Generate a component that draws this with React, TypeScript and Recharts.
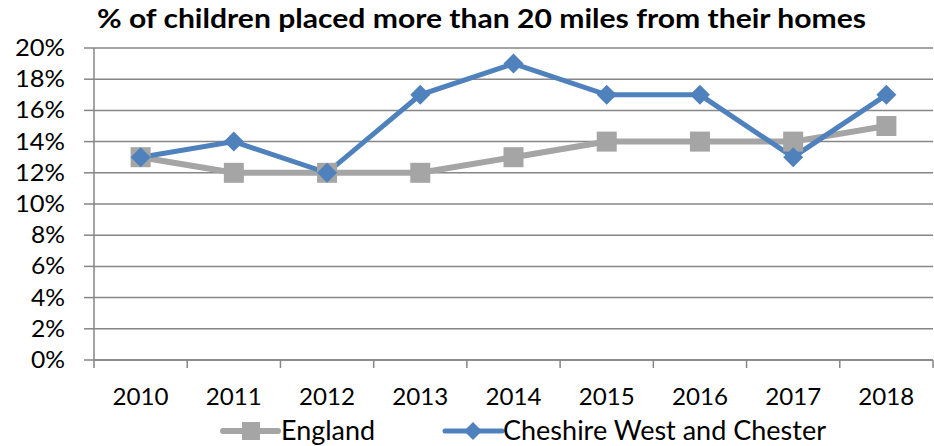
import { LineChart, Line, XAxis, YAxis, CartesianGrid } from 'recharts';

const years = ['2010', '2011', '2012', '2013', '2014', '2015', '2016', '2017', '2018'];
const england = [0.13, 0.12, 0.12, 0.12, 0.13, 0.14, 0.14, 0.14, 0.15];
const cheshire = [0.13, 0.14, 0.12, 0.17, 0.19, 0.17, 0.17, 0.13, 0.17];
const yTicks = [0, 0.02, 0.04, 0.06, 0.08, 0.1, 0.12, 0.14, 0.16, 0.18, 0.2];

const data = years.map((year, i) => ({
    year,
    england: england[i],
    cheshire: cheshire[i],
}));

const FONT = 'Lato, "Open Sans", sans-serif';
const GRAY = '#a5a5a5';
const BLUE = '#4f81bd';
const AXIS = '#868686';
const HALF = 839 / 18;

function XTick(props: any) {
    const { x, index } = props;
    const axisY = 360;
    return (
        <g>
            <line x1={x - HALF} y1={axisY} x2={x - HALF} y2={axisY + 8} stroke={AXIS} strokeWidth={1.5} />
            {index === years.length - 1 && (
                <line x1={x + HALF} y1={axisY} x2={x + HALF} y2={axisY + 8} stroke={AXIS} strokeWidth={1.5} />
            )}
            <text
                x={x}
                y={axisY + 45}
                textAnchor="middle"
                fill="#000"
                textLength={56}
                lengthAdjust="spacingAndGlyphs"
                style={{ fontFamily: FONT, fontSize: 24 }}
            >
                {props.payload.value}
            </text>
        </g>
    );
}

function YTick(props: any) {
    const { x, y, payload } = props;
    const label = `${Math.round(payload.value * 100)}%`;
    return (
        <text
            x={x}
            y={y + 8}
            textAnchor="end"
            fill="#000"
            textLength={label.length === 3 ? 50 : 34}
            lengthAdjust="spacingAndGlyphs"
            style={{ fontFamily: FONT, fontSize: 24 }}
        >
            {label}
        </text>
    );
}

function Square(props: any) {
    const { cx, cy } = props;
    return <rect x={cx - 10} y={cy - 10} width={20} height={20} fill={GRAY} />;
}

function Diamond(props: any) {
    const { cx, cy } = props;
    return <polygon points={`${cx},${cy - 10} ${cx + 10},${cy} ${cx},${cy + 10} ${cx - 10},${cy}`} fill={BLUE} />;
}

function Overlay() {
    return (
        <svg width={934} height={446} style={{ position: 'absolute', left: 0, top: 0, pointerEvents: 'none' }}>
            <text
                x={97}
                y={28}
                textLength={769}
                lengthAdjust="spacingAndGlyphs"
                style={{ fontFamily: FONT, fontWeight: 'bold', fontSize: 26 }}
            >
                % of children placed more than 20 miles from their homes
            </text>
            <line x1={223} y1={431} x2={278} y2={431} stroke={GRAY} strokeWidth={6} strokeLinecap="round" />
            <rect x={242} y={422} width={18} height={18} fill={GRAY} />
            <text x={281} y={440} textLength={94} lengthAdjust="spacingAndGlyphs" style={{ fontFamily: FONT, fontSize: 27 }}>
                England
            </text>
            <line x1={445} y1={431} x2={502} y2={431} stroke={BLUE} strokeWidth={5} strokeLinecap="round" />
            <polygon points="473,422 482,431 473,440 464,431" fill={BLUE} />
            <text x={503} y={440} textLength={323} lengthAdjust="spacingAndGlyphs" style={{ fontFamily: FONT, fontSize: 27 }}>
                Cheshire West and Chester
            </text>
        </svg>
    );
}

export default function App() {
    return (
        <div style={{ position: 'absolute', left: 0, top: 0, width: 934, height: 446, background: '#fff' }}>
            <LineChart width={934} height={446} data={data} margin={{ top: 48, right: 1, bottom: 36, left: 0 }}>
                <CartesianGrid vertical={false} stroke={AXIS} strokeWidth={1.5} />
                <XAxis
                    dataKey="year"
                    padding={{ left: HALF, right: HALF }}
                    stroke={AXIS}
                    strokeWidth={1.5}
                    tickLine={false}
                    tick={<XTick />}
                    interval={0}
                    height={50}
                />
                <YAxis
                    width={94}
                    domain={[0, 0.2]}
                    ticks={yTicks}
                    interval={0}
                    stroke={AXIS}
                    strokeWidth={1.5}
                    tickSize={10}
                    tickMargin={19}
                    tick={<YTick />}
                />
                <Line
                    dataKey="england"
                    stroke={GRAY}
                    strokeWidth={6}
                    dot={<Square />}
                    activeDot={false}
                    isAnimationActive={false}
                />
                <Line
                    dataKey="cheshire"
                    stroke={BLUE}
                    strokeWidth={5}
                    dot={<Diamond />}
                    activeDot={false}
                    isAnimationActive={false}
                />
            </LineChart>
            <Overlay />
        </div>
    );
}
